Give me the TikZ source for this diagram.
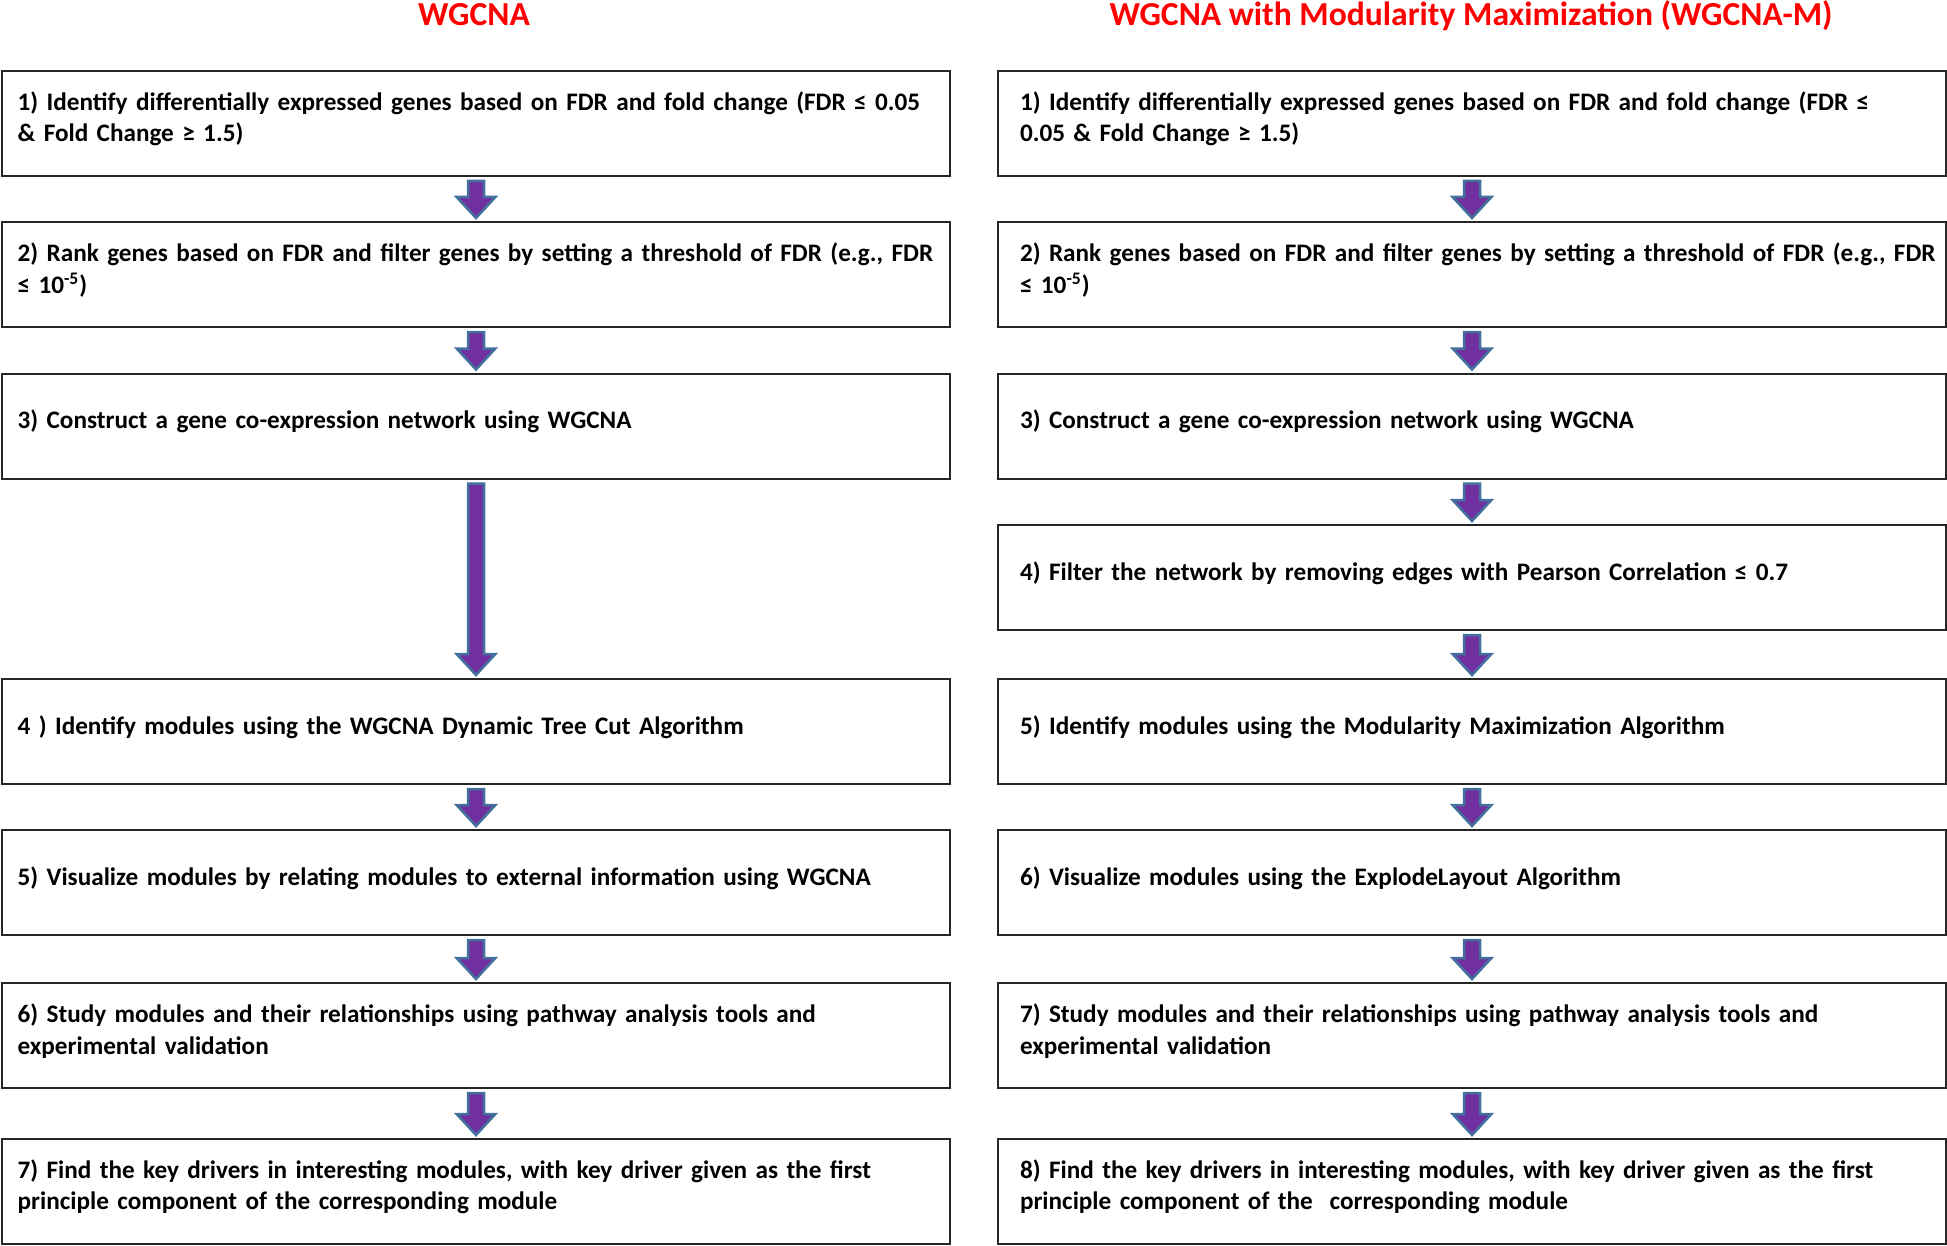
\documentclass[tikz,border=0pt]{standalone}
\usepackage{fontspec}
\setmainfont{Carlito}
\usetikzlibrary{calc}
\definecolor{titlered}{RGB}{255,0,0}
\definecolor{arrowfill}{RGB}{112,48,160}
\definecolor{arrowline}{RGB}{65,113,156}
\tikzset{
  stepbox/.style={draw=black!85,line width=1pt,anchor=north west,inner xsep=0pt,inner ysep=0pt,
    minimum width=474pt,minimum height=52.5pt,text width=474pt,align=left,
    font=\bfseries\fontsize{12.6pt}{15.75pt}\selectfont,execute at end node={\par\kern4.5pt}},
  leftcol/.style={stepbox,execute at begin node={\leftskip=7.8pt}},
  rightcol/.style={stepbox,execute at begin node={\leftskip=11pt}},
  coltitle/.style={text=titlered,anchor=base,font=\bfseries\fontsize{16.8pt}{19pt}\selectfont},
  fatarrow/.style={fill=arrowfill,draw=arrowline,line width=1.25pt,line join=miter}
}
\begin{document}
\begin{tikzpicture}[x=0.5pt,y=-0.5pt]
    \useasboundingbox(0,0)rectangle(1947,1246);
    \node[coltitle](tleft) at(474,26){WGCNA};
    \node[coltitle](tright) at(1471,26){WGCNA with Modularity Maximization (WGCNA-M)};
    \node[leftcol](l1) at(1,70){1) Identify differentially expressed genes based on FDR and fold change (FDR ≤ 0.05\\ \& Fold Change ≥ 1.5)};
    \node[leftcol](l2) at(1,221){2) Rank genes based on FDR and filter genes by setting a threshold of FDR (e.g., FDR\\ ≤ 10\textsuperscript{-5})};
    \node[leftcol](l3) at(1,372.5){3) Construct a gene co-expression network using WGCNA};
    \node[leftcol](l4) at(1,678){4 ) Identify modules using the WGCNA Dynamic Tree Cut Algorithm};
    \node[leftcol](l5) at(1,829){5) Visualize modules by relating modules to external information using WGCNA};
    \node[leftcol](l6) at(1,982){6) Study modules and their relationships using pathway analysis tools and\\ experimental validation};
    \node[leftcol](l7) at(1,1138){7) Find the key drivers in interesting modules, with key driver given as the first\\ principle component of the corresponding module};
    \node[rightcol](r1) at(997,70){1) Identify differentially expressed genes based on FDR and fold change (FDR ≤\\ 0.05 \& Fold Change ≥ 1.5)};
    \node[rightcol](r2) at(997,221){2) Rank genes based on FDR and filter genes by setting a threshold of FDR (e.g., FDR\\ ≤ 10\textsuperscript{-5})};
    \node[rightcol](r3) at(997,372.5){3) Construct a gene co-expression network using WGCNA};
    \node[rightcol](r4) at(997,524){4) Filter the network by removing edges with Pearson Correlation ≤ 0.7};
    \node[rightcol](r5) at(997,678){5) Identify modules using the Modularity Maximization Algorithm};
    \node[rightcol](r6) at(997,829){6) Visualize modules using the ExplodeLayout Algorithm};
    \node[rightcol](r7) at(997,982){7) Study modules and their relationships using pathway analysis tools and\\ experimental validation};
    \node[rightcol](r8) at(997,1138){8) Find the key drivers in interesting modules, with key driver given as the first\\ principle component of the\ \ corresponding module};
    \foreach \a/\b in {l1/l2,l2/l3,l3/l4,l4/l5,l5/l6,l6/l7,r1/r2,r2/r3,r3/r4,r4/r5,r5/r6,r6/r7,r7/r8}
      \draw[fatarrow] let \p1=(\a.south),\p2=(\b.north) in
        (\x1-4pt,\y1-2pt)--(\x1+4pt,\y1-2pt)--(\x1+4pt,\y2+12pt)--(\x1+9.7pt,\y2+12pt)
        --(\x1,\y2+1.5pt)--(\x1-9.7pt,\y2+12pt)--(\x1-4pt,\y2+12pt)--cycle;
\end{tikzpicture}
\end{document}
